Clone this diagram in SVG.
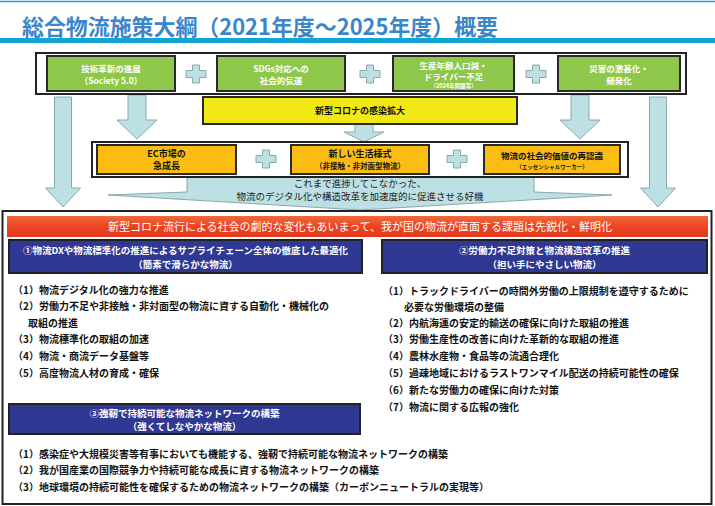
<svg xmlns="http://www.w3.org/2000/svg" width="715" height="506" viewBox="0 0 715 506">
<defs>
<style>
text{font-family:"Noto Sans CJK JP","Noto Sans CJK SC",sans-serif;}
.b{font-weight:700;}
.w{fill:#fff;}
.k{fill:#111;}
.c{text-anchor:middle;}
.green{fill:#8fc74a;stroke:#2a2a2a;stroke-width:2;}
.org{fill:#fbbd14;stroke:#2a2a2a;stroke-width:2;}
.blue{fill:#2f3893;stroke:#222;stroke-width:2;}
.frame{fill:#fff;stroke:#222;stroke-width:2;}
.arr{fill:#bde0e4;stroke:#8aa8ac;stroke-width:1;}
.li{font-size:10px;font-weight:700;fill:#111;}
</style>
<path id="plus" d="M-3.5,-9 h7 v5.5 h6.5 v7 h-6.5 v5.5 h-7 v-5.5 h-6.5 v-7 h6.5 z"/>
<linearGradient id="red" x1="0" y1="0" x2="0" y2="1">
<stop offset="0" stop-color="#f26a3a"/>
<stop offset="0.5" stop-color="#ed4323"/>
<stop offset="1" stop-color="#e23a1c"/>
</linearGradient>
</defs>
<rect width="715" height="506" fill="#fff"/>
<!-- header -->
<g id="header">
<line x1="0" y1="1.5" x2="715" y2="1.5" stroke="#1ea0d2" stroke-width="1.5"/>
<text x="22" y="35" font-size="22" class="b" fill="#3b86c8" textLength="476" lengthAdjust="spacingAndGlyphs">総合物流施策大綱（2021年度～2025年度）概要</text>
<rect x="0" y="38" width="715" height="5" fill="#12a4d4"/>
</g>
<!-- connectors -->
<g id="connectors">
<path class="arr" d="M54.5,97 h17 v91 h9 l-17.5,19 l-17.5,-19 h9 z"/>
<path class="arr" d="M649.5,97 h17 v91 h9 l-17.5,19 l-17.5,-19 h9 z"/>
<path class="arr" d="M128,95 h18 v25 h11 l-20,19 l-20,-19 h11 z"/>
<path class="arr" d="M571,95 h18 v25 h11 l-20,19 l-20,-19 h11 z"/>
<path class="arr" d="M355,124 h18 v8 h11 l-20,10 l-20,-10 h11 z"/>
<path class="arr" d="M187,177 H534 V192 L612,195 L360,210 L108,195 L187,192 Z"/>
<text x="360" y="186.5" font-size="9.5" class="c" fill="#222">これまで進捗してこなかった、</text>
<text x="360" y="200" font-size="9.5" class="c" fill="#222">物流のデジタル化や構造改革を加速度的に促進させる好機</text>
</g>
<!-- top factors -->
<g id="top-frame">
<rect class="frame" x="36" y="53" width="650" height="41"/>
</g>
<g id="n-tech">
<rect class="green" x="47" y="56" width="128" height="35"/>
<text x="111" y="72" font-size="8.5" class="b w c">技術革新の進展</text>
<text x="111" y="84" font-size="8.5" class="b w c">（Society 5.0）</text>
</g>
<g id="plus1"><use href="#plus" x="196" y="74" class="arr"/></g>
<g id="n-sdgs">
<rect class="green" x="217" y="56" width="128" height="35"/>
<text x="281" y="72" font-size="8.5" class="b w c">SDGs対応への</text>
<text x="281" y="84" font-size="8.5" class="b w c">社会的気運</text>
</g>
<g id="plus2"><use href="#plus" x="370" y="74" class="arr"/></g>
<g id="n-labor">
<rect class="green" x="393" y="56" width="121" height="35"/>
<text x="453.5" y="69" font-size="8.5" class="b w c">生産年齢人口減・</text>
<text x="453.5" y="80" font-size="8.5" class="b w c">ドライバー不足</text>
<text x="453.5" y="88" font-size="5.5" class="b w c">（2024年問題等）</text>
</g>
<g id="plus3"><use href="#plus" x="536" y="74" class="arr"/></g>
<g id="n-disaster">
<rect class="green" x="558" y="56" width="122" height="35"/>
<text x="619" y="72" font-size="8.5" class="b w c">災害の激甚化・</text>
<text x="619" y="84" font-size="8.5" class="b w c">頻発化</text>
</g>
<g id="n-corona">
<rect x="203" y="97" width="314" height="27" fill="#f1e816" stroke="#2a2a2a" stroke-width="2"/>
<text x="360" y="114" font-size="9" class="b k c">新型コロナの感染拡大</text>
</g>
<!-- middle -->
<g id="mid-frame">
<rect class="frame" x="92" y="142" width="536" height="35"/>
</g>
<g id="n-ec">
<rect class="org" x="97" y="145" width="139" height="29"/>
<text x="166.5" y="157" font-size="9" class="b k c">EC市場の</text>
<text x="166.5" y="169" font-size="9" class="b k c">急成長</text>
</g>
<g id="plus4"><use href="#plus" x="266" y="159" class="arr"/></g>
<g id="n-life">
<rect class="org" x="291" y="145" width="138" height="29"/>
<text x="360" y="157" font-size="9" class="b k c">新しい生活様式</text>
<text x="360" y="169" font-size="7.5" class="b k c">（非接触・非対面型物流）</text>
</g>
<g id="plus5"><use href="#plus" x="457" y="159" class="arr"/></g>
<g id="n-value">
<rect class="org" x="484" y="145" width="136" height="29"/>
<text x="552" y="159" font-size="8.5" class="b k c">物流の社会的価値の再認識</text>
<text x="552" y="168.5" font-size="5.5" class="b k c">（エッセンシャルワーカー）</text>
</g>
<!-- bottom -->
<g id="bottom-frame">
<rect class="frame" x="2.5" y="211" width="709" height="293"/>
</g>
<g id="n-banner">
<rect x="7" y="216" width="701" height="21" fill="url(#red)"/>
<text x="360" y="231" font-size="11" class="w c">新型コロナ流行による社会の劇的な変化もあいまって、我が国の物流が直面する課題は先鋭化・鮮明化</text>
</g>
<g id="n-goal1">
<rect class="blue" x="9" y="240" width="353" height="33"/>
<text x="185.5" y="254" font-size="9.5" class="b w c">①物流DXや物流標準化の推進によるサプライチェーン全体の徹底した最適化</text>
<text x="185.5" y="267.5" font-size="9.5" class="b w c">（簡素で滑らかな物流）</text>
</g>
<g id="n-list1">
<text x="13" y="294" class="li">（1）物流デジタル化の強力な推進</text>
<text x="13" y="310" class="li">（2）労働力不足や非接触・非対面型の物流に資する自動化・機械化の</text>
<text x="28" y="327" class="li">取組の推進</text>
<text x="13" y="343" class="li">（3）物流標準化の取組の加速</text>
<text x="13" y="360" class="li">（4）物流・商流データ基盤等</text>
<text x="13" y="377" class="li">（5）高度物流人材の育成・確保</text>
</g>
<g id="n-goal2">
<rect class="blue" x="382" y="240" width="325" height="33"/>
<text x="544.5" y="254" font-size="9.5" class="b w c">②労働力不足対策と物流構造改革の推進</text>
<text x="544.5" y="267.5" font-size="9.5" class="b w c">（担い手にやさしい物流）</text>
</g>
<g id="n-list2">
<text x="383" y="295" class="li">（1）トラックドライバーの時間外労働の上限規制を遵守するために</text>
<text x="404" y="311" class="li">必要な労働環境の整備</text>
<text x="383" y="327" class="li">（2）内航海運の安定的輸送の確保に向けた取組の推進</text>
<text x="383" y="343" class="li">（3）労働生産性の改善に向けた革新的な取組の推進</text>
<text x="383" y="360" class="li">（4）農林水産物・食品等の流通合理化</text>
<text x="383" y="377" class="li">（5）過疎地域におけるラストワンマイル配送の持続可能性の確保</text>
<text x="383" y="394" class="li">（6）新たな労働力の確保に向けた対策</text>
<text x="383" y="411" class="li">（7）物流に関する広報の強化</text>
</g>
<g id="n-goal3">
<rect class="blue" x="9" y="404" width="351" height="30"/>
<text x="184.5" y="416.5" font-size="9.5" class="b w c">③強靭で持続可能な物流ネットワークの構築</text>
<text x="184.5" y="430" font-size="9.5" class="b w c">（強くてしなやかな物流）</text>
</g>
<g id="n-list3">
<text x="13" y="458" class="li">（1）感染症や大規模災害等有事においても機能する、強靭で持続可能な物流ネットワークの構築</text>
<text x="13" y="474" class="li">（2）我が国産業の国際競争力や持続可能な成長に資する物流ネットワークの構築</text>
<text x="13" y="491" class="li">（3）地球環境の持続可能性を確保するための物流ネットワークの構築（カーボンニュートラルの実現等）</text>
</g>
</svg>
